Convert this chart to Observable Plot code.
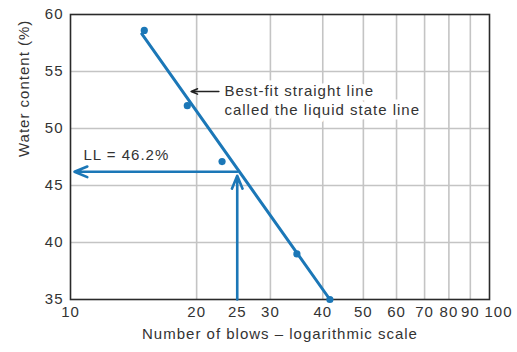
<!DOCTYPE html>
<html>
<head>
<meta charset="utf-8">
<script src="https://cdn.jsdelivr.net/npm/d3@7"></script>
<script src="https://cdn.jsdelivr.net/npm/@observablehq/plot@0.6"></script>
<style>
  html, body { margin: 0; padding: 0; background: #fff; }
  #chart svg { display: block; }
</style>
</head>
<body>
<div id="chart"></div>
<script>
// Data
const blows = [15.0, 19.0, 23.0, 34.7, 41.6];
const water = [58.6, 52.0, 47.1, 39.0, 35.0];
const fitBlows = [14.8, 41.6];
const fitWater = [58.3, 35.0];
const llBlows = 25;
const llWater = 46.2;
const llLabel = "LL = 46.2%";
const noteLines = ["Best-fit straight line", "called the liquid state line"];
const xTicks = [10, 20, 25, 30, 40, 50, 60, 70, 80, 90];
const xLastTick = [100];
const yTicks = [35, 40, 45, 50, 55, 60];
const xGrid = [20, 30, 40, 50, 60, 70, 80, 90];
const yGrid = [40, 45, 50, 55];
const xLabel = "Number of blows – logarithmic scale";
const yLabel = "Water content (%)";

const blue = "#1b77b7";
const points = blows.map((b, i) => ({x: b, y: water[i]}));
const fit = fitBlows.map((b, i) => ({x: b, y: fitWater[i]}));
const xMin = xTicks[0], yMin = yTicks[0];
const llArrows = [
  {x1: llBlows, y1: yMin, x2: llBlows, y2: llWater},
  {x1: llBlows, y1: llWater, x2: xMin, y2: llWater}
];
const noteY = [53.25, 51.6];
const notes = noteLines.map((t, i) => ({x: 23.3, y: noteY[i], t}));
const noteArrow = [{x1: 22.6, y1: noteY[0], x2: 19.4, y2: noteY[0]}];
const llText = [{x: 10.74, y: 47.7, t: llLabel}];

const chart = Plot.plot({
  width: 517,
  height: 352,
  marginLeft: 70,
  marginRight: 28,
  marginTop: 14,
  marginBottom: 53,
  style: {fontFamily: "'Liberation Sans', Arial, sans-serif", fontSize: "15px", letterSpacing: "1px", color: "#333", background: "#fff"},
  x: {type: "log", domain: [10, 100]},
  y: {domain: [35, 60]},
  marks: [
    Plot.gridX(xGrid, {stroke: "#c4c4c4", strokeOpacity: 1, strokeWidth: 1.6}),
    Plot.gridY(yGrid, {stroke: "#c4c4c4", strokeOpacity: 1, strokeWidth: 1.6}),
    Plot.frame({stroke: "#2a2a2a", strokeWidth: 1.6}),
    Plot.axisX({ticks: xTicks, tickSize: 0, tickPadding: 7, tickFormat: d => String(d), label: null, fill: "#333"}),
    Plot.axisX({ticks: xLastTick, tickSize: 0, tickPadding: 7, tickFormat: d => String(d), label: null, fill: "#333", dx: 9}),
    Plot.axisY({ticks: yTicks, tickSize: 0, tickPadding: 7, tickFormat: d => String(d), label: null, fill: "#333"}),
    Plot.text([xLabel], {frameAnchor: "bottom", dy: 39, fill: "#333"}),
    Plot.text([yLabel], {frameAnchor: "left", rotate: -90, dx: -46, fill: "#333"}),
    Plot.text(notes, {x: "x", y: "y", text: "t", textAnchor: "start", fill: "#333", stroke: "white", strokeWidth: 9}),
    Plot.text(llText, {x: "x", y: "y", text: "t", textAnchor: "start", fill: "#333"}),
    Plot.arrow(noteArrow, {x1: "x1", y1: "y1", x2: "x2", y2: "y2", stroke: "#222", strokeWidth: 1.5, headLength: 7, headAngle: 45}),
    Plot.line(fit, {x: "x", y: "y", stroke: blue, strokeWidth: 3}),
    Plot.arrow(llArrows, {x1: "x1", y1: "y1", x2: "x2", y2: "y2", stroke: blue, strokeWidth: 2.6, headLength: 8, headAngle: 45, insetEnd: 4}),
    Plot.dot(points, {x: "x", y: "y", r: 3.6, fill: blue})
  ]
});
document.getElementById("chart").append(chart);
</script>
</body>
</html>
